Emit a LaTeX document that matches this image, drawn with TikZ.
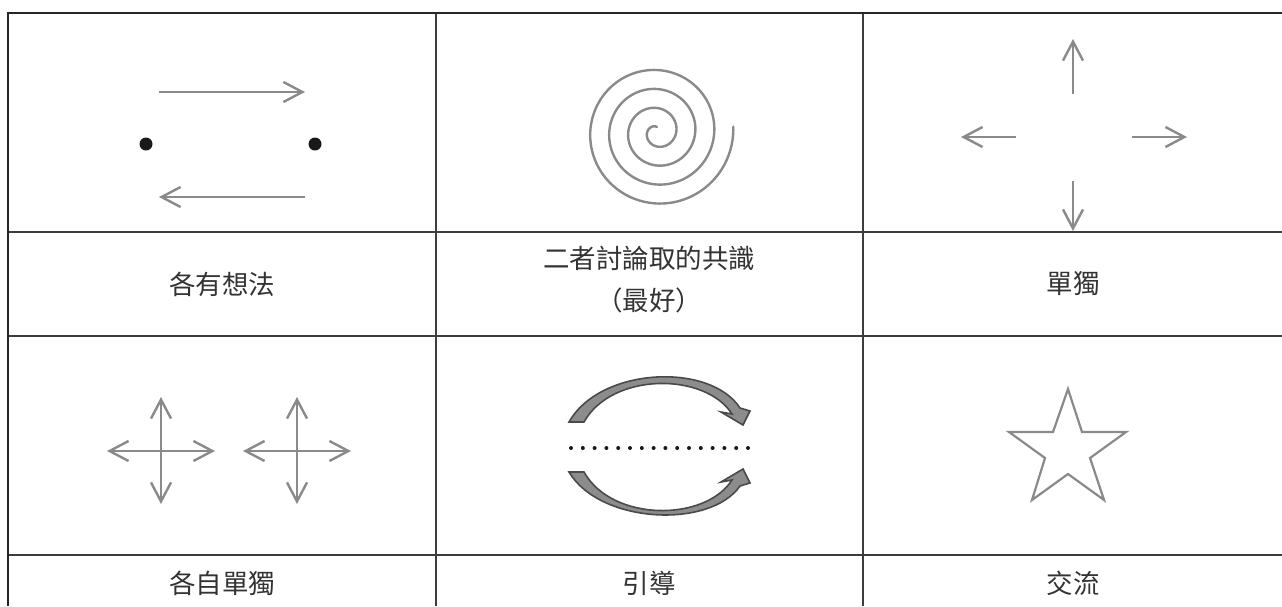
\documentclass[tikz,border=0pt]{standalone}
\usepackage{fontspec}
\newfontfamily\cjk{Noto Sans CJK TC}
\usetikzlibrary{arrows.meta}
\definecolor{arrowgray}{HTML}{8A8A8C}
\definecolor{framegray}{HTML}{3C3C3C}
\definecolor{bandfill}{HTML}{8C8C8C}
\definecolor{bandline}{HTML}{4A4A4A}
\begin{document}
\begin{tikzpicture}[x=1pt,y=-1pt,
  frame/.style={draw=framegray,line width=1.6pt},
  outerline/.style={draw=black!85,line width=2.6pt},
  garrow/.style={draw=arrowgray,line width=2.4pt,-{Straight Barb[length=19pt,width=20pt]}},
  gline/.style={draw=arrowgray,line width=2.4pt},
  lbl/.style={font=\cjk\fontsize{26.5pt}{30pt}\selectfont,text=black!80,inner sep=0pt},
  band/.style={fill=bandfill,draw=bandline,line width=1.6pt,line join=miter},
  blackdot/.style={fill=black!90}
]
\useasboundingbox (0,0) rectangle (1282,606);

% grid
\draw[frame] (8,232) -- (1282,232);
\draw[frame] (8,336) -- (1282,336);
\draw[frame] (8,555) -- (1282,555);
\draw[frame] (436,13) -- (436,606);
\draw[frame] (863,13) -- (863,606);
\draw[outerline] (8,606) -- (8,13) -- (1282,13);

% cell 1: each has own ideas
\coordinate (a1s) at (159,92);  \coordinate (a1e) at (305,92);
\coordinate (a2s) at (305,197); \coordinate (a2e) at (159,197);
\draw[garrow] (a1s) -- (a1e);
\draw[garrow] (a2s) -- (a2e);
\fill[blackdot] (146,144) circle (6.5pt);
\fill[blackdot] (315,144) circle (6.5pt);

% cell 2: spiral
\draw[gline,line cap=round] plot[domain=90:1444,samples=500,variable=\t]
  ({657+(5+(\t-90)/360*19)*cos(\t)},{132-(5+(\t-90)/360*19)*sin(\t)});

% cell 3: single
\draw[garrow] (1073,94) -- (1073,39);
\draw[garrow] (1073,181) -- (1073,231);
\draw[garrow] (1016,137) -- (961,137);
\draw[garrow] (1132,137) -- (1187,137);

% cell 4: two crosses
\foreach \cx in {161,297}{
  \draw[garrow] (\cx,451) -- ++(0,-54);
  \draw[garrow] (\cx,451) -- ++(0,53);
  \draw[garrow] (\cx,451) -- ++(-54,0);
  \draw[garrow] (\cx,451) -- ++(54,0);
}

% cell 5: guiding arrows
\draw[band] (569,422) .. controls (600,367) and (710,362) .. (740,408)
  -- (750,411) -- (743,425) -- (721,412) -- (732,414)
  .. controls (705,372) and (612,372) .. (584,422) -- cycle;
\draw[band] (569,472) .. controls (600,524) and (710,529) .. (740,486)
  -- (750,483) -- (743,469) -- (721,482) -- (732,480)
  .. controls (705,522) and (612,522) .. (584,472) -- cycle;
\foreach \i in {0,...,15}
  \fill[black!90] (571+\i*11.8,448) circle (2pt);

% cell 6: star
\draw[gline,line width=2.2pt,line join=miter] (1068,389) -- (1082,432) -- (1126,432) -- (1090,458)
  -- (1104,500) -- (1068,474) -- (1032,500) -- (1045,458) -- (1009,432) -- (1053,432) -- cycle;

% labels
\node[lbl] (t1) at (222,284) {各有想法};
\node[lbl] (t2a) at (649,258) {二者討論取的共識};
\node[lbl] (t2b) at (649,300) {（最好）};
\node[lbl] (t3) at (1073,284) {單獨};
\node[lbl] (b1) at (222,583) {各自單獨};
\node[lbl] (b2) at (649,583) {引導};
\node[lbl] (b3) at (1073,583) {交流};
\end{tikzpicture}
\end{document}
